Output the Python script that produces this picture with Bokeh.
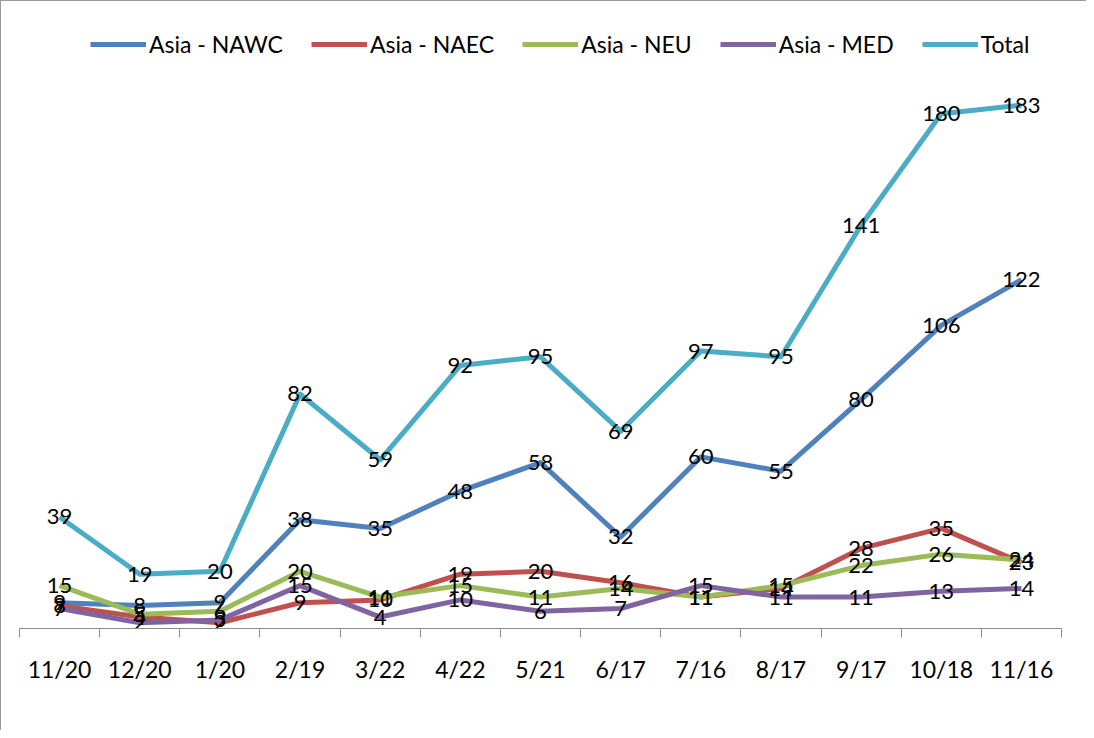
from bokeh.plotting import figure
from bokeh.models import Range1d, FixedTicker, Legend, LegendItem, ColumnDataSource
from bokeh.core.properties import value
from bokeh.embed import file_html
from bokeh.resources import INLINE

categories = ["11/20", "12/20", "1/20", "2/19", "3/22", "4/22", "5/21",
              "6/17", "7/16", "8/17", "9/17", "10/18", "11/16"]
nawc = [9, 8, 9, 38, 35, 48, 58, 32, 60, 55, 80, 106, 122]
naec = [8, 4, 2, 9, 10, 19, 20, 16, 11, 14, 28, 35, 23]
neu = [15, 5, 6, 20, 11, 15, 11, 14, 11, 15, 22, 26, 24]
med = [7, 2, 3, 15, 4, 10, 6, 7, 15, 11, 11, 13, 14]
total = [39, 19, 20, 82, 59, 92, 95, 69, 97, 95, 141, 180, 183]

series = [
    ("Asia - NAWC", nawc, "#4F81BD"),
    ("Asia - NAEC", naec, "#C0504D"),
    ("Asia - NEU", neu, "#9BBB59"),
    ("Asia - MED", med, "#8064A2"),
    ("Total", total, "#4BACC6"),
]

FONT = "Lato"
n = len(categories)
xs = [i + 0.5 for i in range(n)]

p = figure(width=1086, height=730, output_backend="svg", toolbar_location=None,
           x_range=Range1d(0, n), y_range=Range1d(0, 213.3),
           min_border_left=18, min_border_right=26, min_border_top=17,
           min_border_bottom=103, background_fill_color="white",
           border_fill_color="white", outline_line_color=None,
           styles={"border-left": "1px solid #9a9a9a", "border-top": "1px solid #9a9a9a"})

p.xgrid.visible = False
p.ygrid.visible = False
p.yaxis.visible = False

ax = p.xaxis[0]
ax.ticker = FixedTicker(ticks=xs, minor_ticks=list(range(n + 1)))
ax.major_label_overrides = {x: c for x, c in zip(xs, categories)}
ax.major_tick_line_color = None
ax.minor_tick_out = 9
ax.minor_tick_in = 0
ax.minor_tick_line_color = "#8c8c8c"
ax.axis_line_color = "#8c8c8c"
ax.axis_line_width = 1
ax.major_label_standoff = 17
ax.major_label_text_font = FONT
ax.major_label_text_font_size = "23px"
ax.major_label_text_color = "black"

items = []
for name, vals, color in series:
    r = p.line(xs, vals, line_color=color, line_width=5, line_join="round")
    items.append(LegendItem(label=name, renderers=[r]))

for name, vals, color in series:
    src = ColumnDataSource(dict(x=xs, y=vals, t=[str(v) for v in vals]))
    p.text(x="x", y="y", text="t", source=src, text_align="center",
           text_baseline="middle", text_font=value(FONT),
           text_font_size="22px", text_color="black")

legend = Legend(items=items, orientation="horizontal", location=(71, 570),
                glyph_width=56, glyph_height=20, label_standoff=3, spacing=28,
                label_text_font=FONT, label_text_font_size="23px",
                label_text_color="black", background_fill_alpha=0,
                border_line_color=None, padding=0, margin=0)
p.add_layout(legend)

open("out.html", "w").write(file_html(p, INLINE))
